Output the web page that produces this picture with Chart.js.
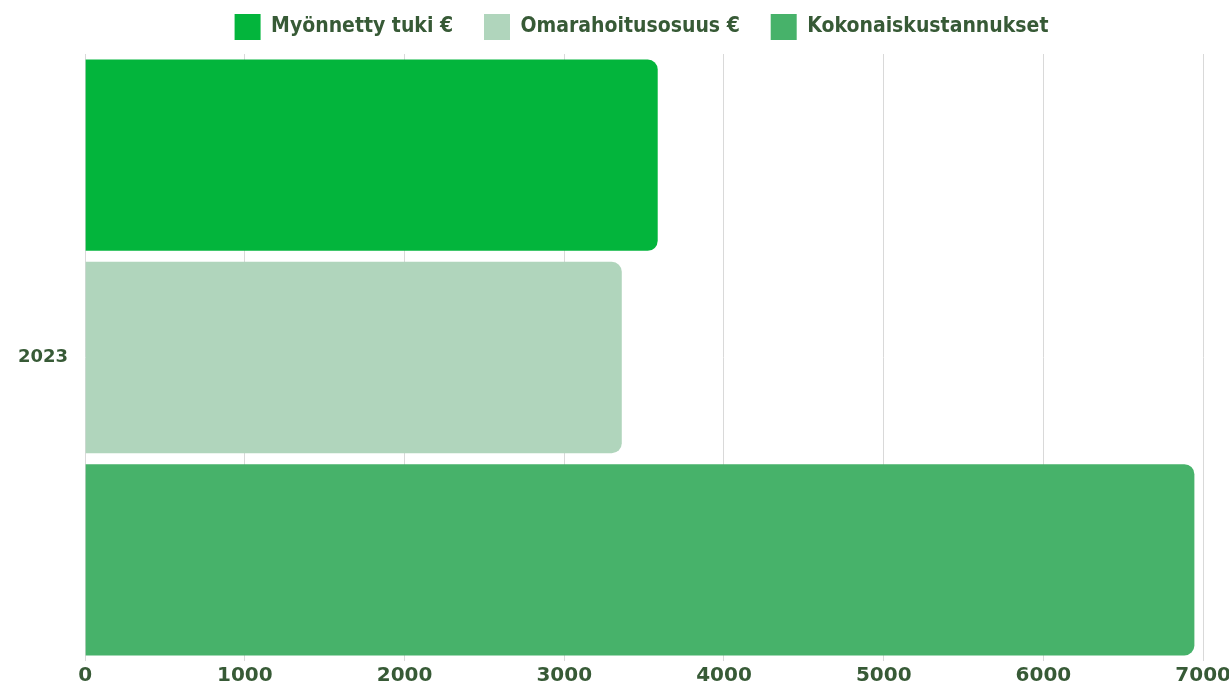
<!DOCTYPE html>
<html><head><meta charset="utf-8">
<script src="https://cdn.jsdelivr.net/npm/chart.js@4"></script>
<style>html,body{margin:0;padding:0;background:#fff;overflow:hidden}#wrap{width:1234px;height:691px;position:relative}</style>
</head><body><div id="wrap"><canvas id="c"></canvas></div>
<script>
const categories = ['2023'];
const seriesNames = ['Myönnetty tuki €', 'Omarahoitusosuus €', 'Kokonaiskustannukset'];
const myonnettyTuki = [3585];
const omarahoitusosuus = [3360];
const kokonaiskustannukset = [6945];
const xTickMin = 0, xTickMax = 7000, xTickStep = 1000;

const textColor = '#375a36';
const colors = ['#03b53c', '#b0d5bc', '#47b26a'];
const legendFont = "'DejaVu Sans Condensed', 'DejaVu Sans', sans-serif";
const tickFont = "'DejaVu Sans', sans-serif";

const legendTweak = {
  id: 'legendTweak',
  beforeInit(chart) {
    const lg = chart.legend;
    if (!lg) return;
    const fit = lg.fit;
    lg.fit = function () { fit.call(this); this.height += 4; };
    const draw = lg.draw;
    lg.draw = function (...a) {
      const ctx = this.ctx;
      ctx.save(); ctx.translate(24, 0);
      draw.apply(this, a);
      ctx.restore();
    };
  }
};

new Chart(document.getElementById('c'), {
  type: 'bar',
  data: {
    labels: categories,
    datasets: [
      { label: seriesNames[0], data: myonnettyTuki, backgroundColor: colors[0] },
      { label: seriesNames[1], data: omarahoitusosuus, backgroundColor: colors[1] },
      { label: seriesNames[2], data: kokonaiskustannukset, backgroundColor: colors[2] }
    ]
  },
  options: {
    indexAxis: 'y',
    responsive: true,
    maintainAspectRatio: false,
    animation: false,
    layout: { padding: { left: 1, top: 2, right: 0, bottom: 0 } },
    datasets: { bar: { barPercentage: 0.9456, categoryPercentage: 1, borderRadius: 10, borderSkipped: 'start' } },
    scales: {
      x: {
        min: xTickMin, max: xTickMax,
        ticks: { stepSize: xTickStep, color: textColor, padding: 3, callback: v => String(v), font: { family: tickFont, size: 20, weight: 'bold' } },
        grid: { color: '#d9d9d9', drawTicks: false },
        border: { display: false }
      },
      y: {
        grid: { display: false, drawTicks: false },
        border: { display: false },
        ticks: { color: textColor, padding: 17, font: { family: tickFont, size: 18, weight: 'bold' } }
      }
    },
    plugins: {
      tooltip: { enabled: false },
      legend: {
        position: 'top',
        labels: {
          boxWidth: 26, boxHeight: 26, padding: 12, color: textColor,
          font: { family: legendFont, size: 21, weight: 'bold' },
          generateLabels(chart) {
            const items = Chart.defaults.plugins.legend.labels.generateLabels(chart);
            items.forEach((it, i) => { if (i < items.length - 1) it.text += '\u2003'; });
            return items;
          }
        }
      }
    }
  },
  plugins: [legendTweak]
});
</script>
</body></html>
